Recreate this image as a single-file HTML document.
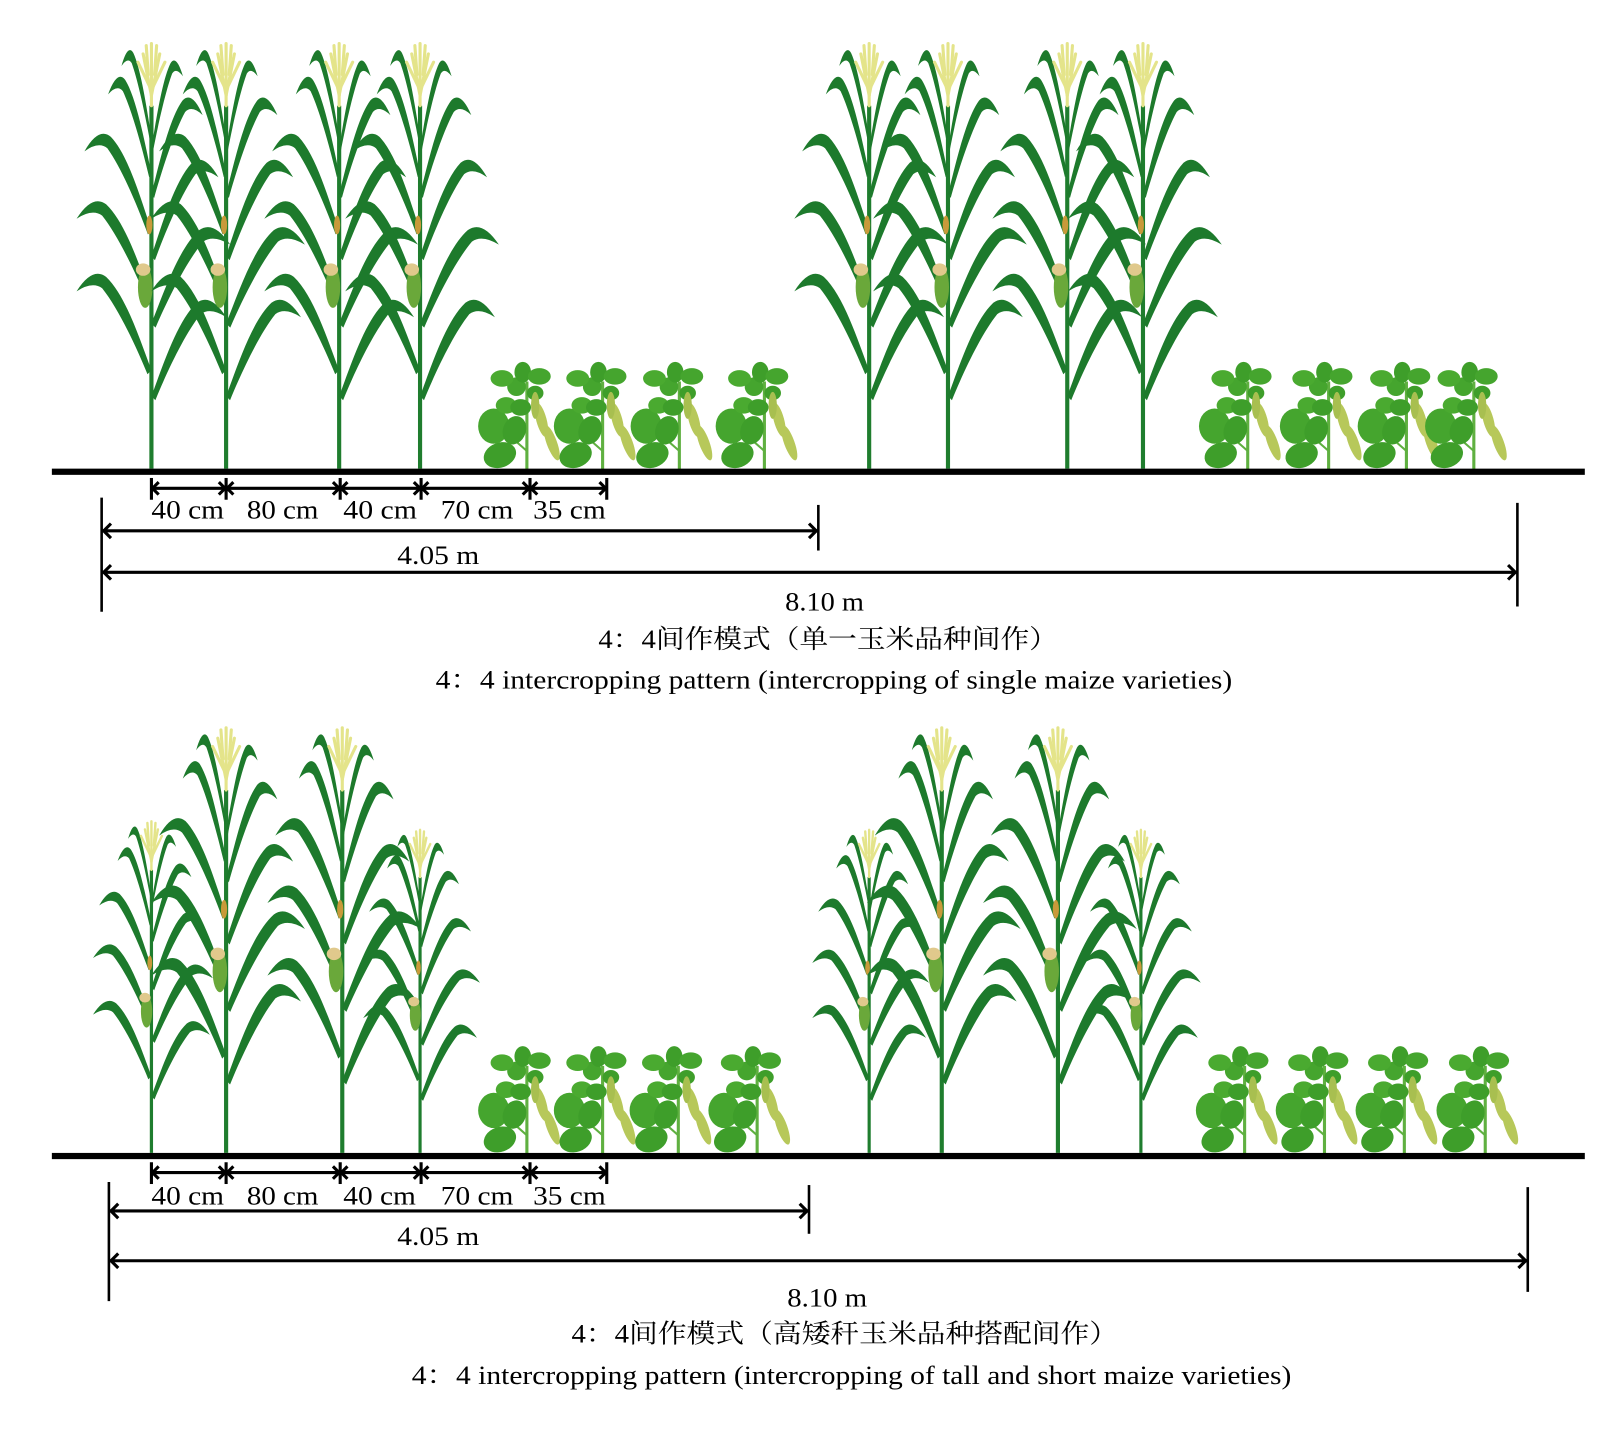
<!DOCTYPE html>
<html><head><meta charset="utf-8"><style>
html,body{margin:0;padding:0;background:#fff}
svg{display:block}
</style></head><body>
<svg width="1618" height="1437" viewBox="0 0 1560 1386" preserveAspectRatio="none" xmlns="http://www.w3.org/2000/svg">
<defs>
<path id="lf" d="M0,0 C12,-30 26,-72 46,-90 Q60,-100 76,-76 Q60,-86 50,-79 C34,-60 16,-24 4,4 Z" fill="#1d7a2c"/>
<g id="maize">
 <line x1="0" y1="0" x2="0" y2="-350" stroke="#1f7d2e" stroke-width="4"/>
 <use href="#lf" transform="translate(0,-70) scale(0.95,1)"/>
 <use href="#lf" transform="translate(0,-95) scale(-0.95,1)"/>
 <use href="#lf" transform="translate(0,-140) scale(1,1)"/>
 <use href="#lf" transform="translate(0,-165) scale(-0.95,1)"/>
 <use href="#lf" transform="translate(0,-205) scale(0.85,1)"/>
 <use href="#lf" transform="translate(0,-230) scale(-0.85,1)"/>
 <use href="#lf" transform="translate(0,-265) scale(0.65,1)"/>
 <use href="#lf" transform="translate(0,-285) scale(-0.55,1)"/>
 <use href="#lf" transform="translate(0,-310) scale(0.4,0.9)"/>
 <use href="#lf" transform="translate(0,-320) scale(-0.38,0.9)"/>
 <ellipse cx="-6" cy="-175" rx="7" ry="20" fill="#6aa83a"/>
 <ellipse cx="-8" cy="-192" rx="7" ry="6" fill="#e0c98c"/>
 <ellipse cx="-2" cy="-235" rx="3" ry="9" fill="#c89a3a"/>
 <g stroke="#e4e48a" stroke-width="3" stroke-linecap="round" fill="none">
  <line x1="0" y1="-350" x2="0" y2="-410"/>
  <line x1="0" y1="-360" x2="-8" y2="-400"/>
  <line x1="0" y1="-360" x2="8" y2="-400"/>
  <line x1="0" y1="-365" x2="-13" y2="-392"/>
  <line x1="0" y1="-365" x2="13" y2="-392"/>
  <line x1="-3" y1="-380" x2="-5" y2="-408"/>
  <line x1="3" y1="-380" x2="5" y2="-408"/>
 </g>
</g>
<g id="soy">
 <line x1="0" y1="0" x2="0" y2="-85" stroke="#5fb040" stroke-width="3"/>
 <line x1="0" y1="-18" x2="-25" y2="-40" stroke="#5fb040" stroke-width="2"/>
 <ellipse cx="-26" cy="-14" rx="16" ry="12" fill="#3e9e2a" transform="rotate(-20 -26 -14)"/>
 <ellipse cx="-32" cy="-42" rx="15" ry="17" fill="#45a52e"/>
 <ellipse cx="-12" cy="-38" rx="11" ry="14" fill="#3e9e2a" transform="rotate(20 -12 -38)"/>
 <ellipse cx="-20" cy="-62" rx="10" ry="8" fill="#4aaa30"/>
 <ellipse cx="-6" cy="-60" rx="10" ry="8" fill="#3e9e2a"/>
 <ellipse cx="-10" cy="-80" rx="9" ry="9" fill="#45a52e"/>
 <ellipse cx="-24" cy="-88" rx="11" ry="8" fill="#4aaa30"/>
 <ellipse cx="-4" cy="-94" rx="8" ry="10" fill="#3e9e2a"/>
 <ellipse cx="12" cy="-90" rx="11" ry="8" fill="#45a52e"/>
 <ellipse cx="8" cy="-74" rx="8" ry="7" fill="#3e9e2a"/>
 <ellipse cx="14" cy="-48" rx="5" ry="17" fill="#b7c85a" transform="rotate(-15 14 -48)"/>
 <ellipse cx="24" cy="-26" rx="5" ry="18" fill="#b7c85a" transform="rotate(-20 24 -26)"/>
 <ellipse cx="8" cy="-62" rx="4" ry="13" fill="#a8bf50"/>
</g>
</defs>

<g>
 <use href="#maize" transform="translate(146,452)"/>
 <use href="#maize" transform="translate(218,452)"/>
 <use href="#maize" transform="translate(327,452)"/>
 <use href="#maize" transform="translate(405,452)"/>
 <use href="#maize" transform="translate(838,452)"/>
 <use href="#maize" transform="translate(914,452)"/>
 <use href="#maize" transform="translate(1029,452)"/>
 <use href="#maize" transform="translate(1102,452)"/>
 <use href="#soy" transform="translate(508,453)"/>
 <use href="#soy" transform="translate(581,453)"/>
 <use href="#soy" transform="translate(655,453)"/>
 <use href="#soy" transform="translate(737,453)"/>
 <use href="#soy" transform="translate(1203,453)"/>
 <use href="#soy" transform="translate(1281,453)"/>
 <use href="#soy" transform="translate(1356,453)"/>
 <use href="#soy" transform="translate(1421,453)"/>
</g>
<rect x="50" y="452" width="1478" height="6" fill="#000"/>

<g>
 <use href="#maize" transform="translate(146,1112) scale(0.78)"/>
 <use href="#maize" transform="translate(218,1112)"/>
 <use href="#maize" transform="translate(330,1112)"/>
 <use href="#maize" transform="translate(405,1112) scale(0.76)"/>
 <use href="#maize" transform="translate(838,1112) scale(0.76)"/>
 <use href="#maize" transform="translate(908,1112)"/>
 <use href="#maize" transform="translate(1020,1112)"/>
 <use href="#maize" transform="translate(1100,1112) scale(0.76)"/>
 <use href="#soy" transform="translate(508,1113)"/>
 <use href="#soy" transform="translate(581,1113)"/>
 <use href="#soy" transform="translate(654,1113)"/>
 <use href="#soy" transform="translate(730,1113)"/>
 <use href="#soy" transform="translate(1200,1113)"/>
 <use href="#soy" transform="translate(1277,1113)"/>
 <use href="#soy" transform="translate(1354,1113)"/>
 <use href="#soy" transform="translate(1432,1113)"/>
</g>
<rect x="50" y="1112" width="1478" height="6" fill="#000"/>

<g stroke="#000" stroke-width="3" fill="none">
 <g id="small">
  <line x1="146" y1="461" x2="146" y2="482"/><line x1="218" y1="461" x2="218" y2="482"/>
  <line x1="328" y1="461" x2="328" y2="482"/><line x1="406" y1="461" x2="406" y2="482"/>
  <line x1="511" y1="461" x2="511" y2="482"/><line x1="585" y1="461" x2="585" y2="482"/>
  <line x1="146" y1="471" x2="218" y2="471"/><polyline points="153,465 147,471 153,477"/><polyline points="211,465 217,471 211,477"/>
  <line x1="218" y1="471" x2="328" y2="471"/><polyline points="225,465 219,471 225,477"/><polyline points="321,465 327,471 321,477"/>
  <line x1="328" y1="471" x2="406" y2="471"/><polyline points="335,465 329,471 335,477"/><polyline points="399,465 405,471 399,477"/>
  <line x1="406" y1="471" x2="511" y2="471"/><polyline points="413,465 407,471 413,477"/><polyline points="504,465 510,471 504,477"/>
  <line x1="511" y1="471" x2="585" y2="471"/><polyline points="518,465 512,471 518,477"/><polyline points="578,465 584,471 578,477"/>
 </g>
 <use href="#small" transform="translate(0,660)"/>
 <line x1="98" y1="480" x2="98" y2="590" stroke-width="2.5"/>
 <line x1="789" y1="487" x2="789" y2="531" stroke-width="2.5"/>
 <line x1="1463" y1="485" x2="1463" y2="585" stroke-width="2.5"/>
 <line x1="99" y1="512" x2="788" y2="512"/><polyline points="107,505 100,512 107,519"/><polyline points="780,505 787,512 780,519"/>
 <line x1="99" y1="552" x2="1462" y2="552"/><polyline points="107,545 100,552 107,559"/><polyline points="1454,545 1461,552 1454,559"/>
 <line x1="105" y1="1140" x2="105" y2="1255" stroke-width="2.5"/>
 <line x1="780" y1="1143" x2="780" y2="1190" stroke-width="2.5"/>
 <line x1="1473" y1="1145" x2="1473" y2="1246" stroke-width="2.5"/>
 <line x1="106" y1="1168" x2="779" y2="1168"/><polyline points="114,1161 107,1168 114,1175"/><polyline points="771,1161 778,1168 771,1175"/>
 <line x1="106" y1="1216" x2="1472" y2="1216"/><polyline points="114,1209 107,1216 114,1223"/><polyline points="1464,1209 1471,1216 1464,1223"/>
</g>

<g font-family="'Liberation Serif','Noto Serif CJK SC',serif" font-size="25" fill="#000" lengthAdjust="spacingAndGlyphs">
 <text x="146" y="500" textLength="70" lengthAdjust="spacingAndGlyphs">40 cm</text>
 <text x="238" y="500" textLength="69" lengthAdjust="spacingAndGlyphs">80 cm</text>
 <text x="331" y="500" textLength="71" lengthAdjust="spacingAndGlyphs">40 cm</text>
 <text x="425" y="500" textLength="70" lengthAdjust="spacingAndGlyphs">70 cm</text>
 <text x="514" y="500" textLength="70" lengthAdjust="spacingAndGlyphs">35 cm</text>
 <text x="383" y="544" textLength="79" lengthAdjust="spacingAndGlyphs">4.05 m</text>
 <text x="757" y="589" textLength="76" lengthAdjust="spacingAndGlyphs">8.10 m</text>
 <text x="577" y="625" textLength="443" lengthAdjust="spacingAndGlyphs">4：4间作模式（单一玉米品种间作）</text>
 <text x="420" y="664" textLength="768" lengthAdjust="spacingAndGlyphs">4：4 intercropping pattern (intercropping of single maize varieties)</text>

 <text x="146" y="1162" textLength="70" lengthAdjust="spacingAndGlyphs">40 cm</text>
 <text x="238" y="1162" textLength="69" lengthAdjust="spacingAndGlyphs">80 cm</text>
 <text x="331" y="1162" textLength="70" lengthAdjust="spacingAndGlyphs">40 cm</text>
 <text x="425" y="1162" textLength="70" lengthAdjust="spacingAndGlyphs">70 cm</text>
 <text x="514" y="1162" textLength="70" lengthAdjust="spacingAndGlyphs">35 cm</text>
 <text x="383" y="1201" textLength="79" lengthAdjust="spacingAndGlyphs">4.05 m</text>
 <text x="759" y="1260" textLength="77" lengthAdjust="spacingAndGlyphs">8.10 m</text>
 <text x="551" y="1295" textLength="527" lengthAdjust="spacingAndGlyphs">4：4间作模式（高矮秆玉米品种搭配间作）</text>
 <text x="397" y="1335" textLength="848" lengthAdjust="spacingAndGlyphs">4：4 intercropping pattern (intercropping of tall and short maize varieties)</text>
</g>
</svg>
</body></html>
